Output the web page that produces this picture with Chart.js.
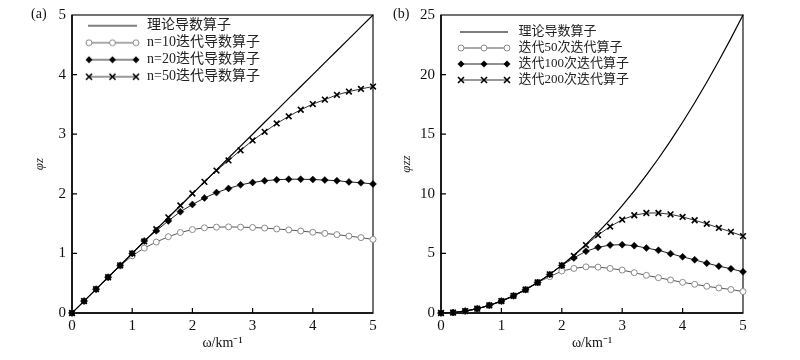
<!DOCTYPE html>
<html><head><meta charset="utf-8">
<script src="https://cdn.jsdelivr.net/npm/chart.js@4/dist/chart.umd.min.js"></script>
<style>
body{margin:0;background:#fff;width:800px;height:360px;position:relative;overflow:hidden}
#ca{position:absolute;left:0;top:0}
#cb{position:absolute;left:390px;top:0}
.pl{position:absolute;font:14px "Liberation Serif",serif;color:#111;top:6px}
</style></head><body>
<canvas id="ca" width="390" height="360"></canvas>
<canvas id="cb" width="410" height="360"></canvas>
<div class="pl" style="left:31px">(a)</div>
<div class="pl" style="left:393px">(b)</div>
<script>
// ---- data ----
const omega = [0,0.2,0.4,0.6,0.8,1.0,1.2,1.4,1.6,1.8,2.0,2.2,2.4,2.6,2.8,3.0,3.2,3.4,3.6,3.8,4.0,4.2,4.4,4.6,4.8,5.0];
const xTicks = [0,1,2,3,4,5];
const yTicksA = [0,1,2,3,4,5];
const yTicksB = [0,5,10,15,20,25];

const labelsA = ['理论导数算子','n=10迭代导数算子','n=20迭代导数算子','n=50迭代导数算子'];
const theoryA = [0,0.2,0.4,0.6,0.8,1.0,1.2,1.4,1.6,1.8,2.0,2.2,2.4,2.6,2.8,3.0,3.2,3.4,3.6,3.8,4.0,4.2,4.4,4.6,4.8,5.0];
const n10 = [0,0.2,0.4,0.6,0.79,0.96,1.09,1.19,1.28,1.35,1.40,1.43,1.44,1.445,1.44,1.435,1.425,1.41,1.395,1.375,1.355,1.335,1.315,1.29,1.265,1.235];
const n20 = [0,0.2,0.4,0.6,0.8,1.0,1.21,1.38,1.545,1.70,1.82,1.93,2.02,2.09,2.15,2.19,2.22,2.235,2.245,2.245,2.24,2.23,2.22,2.20,2.185,2.165];
const n50 = [0,0.2,0.4,0.6,0.8,1.0,1.2,1.405,1.605,1.805,2.005,2.2,2.39,2.56,2.73,2.895,3.04,3.18,3.30,3.41,3.505,3.58,3.66,3.715,3.76,3.80];

const labelsB = ['理论导数算子','迭代50次迭代算子','迭代100次迭代算子','迭代200次迭代算子'];
const theoryB = [0,0.04,0.16,0.36,0.64,1,1.44,1.96,2.56,3.24,4,4.84,5.76,6.76,7.84,9,10.24,11.56,12.96,14.44,16,17.64,19.36,21.16,23.04,25];
const it50 = [0,0.04,0.16,0.36,0.64,1,1.44,1.96,2.56,3.05,3.52,3.74,3.87,3.85,3.74,3.60,3.38,3.16,2.96,2.77,2.57,2.41,2.24,2.10,1.97,1.80];
const it100 = [0,0.04,0.16,0.36,0.64,1,1.44,1.96,2.56,3.24,3.99,4.62,5.18,5.51,5.70,5.73,5.65,5.45,5.26,4.98,4.71,4.46,4.18,3.93,3.71,3.46];
const it200 = [0,0.04,0.16,0.36,0.64,1,1.44,1.96,2.56,3.24,4.0,4.79,5.70,6.54,7.25,7.83,8.20,8.39,8.39,8.28,8.06,7.78,7.48,7.14,6.81,6.45];

// ---- styles ----
const SERIF = '"Liberation Serif","Times New Roman",serif';
const LEG = '"Liberation Serif","Noto Sans CJK SC",serif';
const styles = [
  {kind:'none', line:'#000', lw:1.2},
  {kind:'circle', line:'#555', lw:1, mk:'#8a8a8a'},
  {kind:'diamond', line:'#222', lw:1, mk:'#000'},
  {kind:'cross', line:'#333', lw:1, mk:'#000'}
];

function drawMarker(g, kind, x, y, col){
  g.save();
  if(kind==='circle'){g.fillStyle='#fff';g.strokeStyle=col;g.lineWidth=1;g.beginPath();g.arc(x,y,3,0,Math.PI*2);g.fill();g.stroke();}
  else if(kind==='diamond'){g.fillStyle=col;g.beginPath();g.moveTo(x,y-3.5);g.lineTo(x+3.5,y);g.lineTo(x,y+3.5);g.lineTo(x-3.5,y);g.closePath();g.fill();}
  else if(kind==='cross'){g.strokeStyle=col;g.lineWidth=1.6;g.beginPath();g.moveTo(x-3,y-3);g.lineTo(x+3,y+3);g.moveTo(x+3,y-3);g.lineTo(x-3,y+3);g.stroke();}
  g.restore();
}
function sampleImg(w, x0, x1, st){
  const c=document.createElement('canvas'); c.width=w; c.height=10;
  const g=c.getContext('2d');
  g.strokeStyle=st.line; g.lineWidth=st.lw; g.beginPath(); g.moveTo(x0,5); g.lineTo(x1,5); g.stroke();
  if(st.kind!=='none'){[x0+1,(x0+x1)/2,x1-1].forEach(x=>drawMarker(g,st.kind,x,5,st.mk));}
  return c;
}

function mkDatasets(labels, series){
  return series.map((vals,i)=>{
    const st=styles[i];
    const ds={label:labels[i], data:omega.map((w,k)=>({x:w,y:vals[k]})),
      borderColor:st.line, borderWidth:st.lw, tension:0, fill:false, clip:false};
    if(st.kind==='none'){ds.pointRadius=0;ds.order=0;}
    else if(st.kind==='circle'){ds.pointStyle='circle';ds.pointRadius=3;ds.pointBorderColor=st.mk;ds.pointBackgroundColor='#fff';ds.pointBorderWidth=1;ds.order=3;}
    else if(st.kind==='diamond'){ds.pointStyle='rectRot';ds.pointRadius=3.5;ds.pointBorderColor=st.mk;ds.pointBackgroundColor=st.mk;ds.pointBorderWidth=0.5;ds.order=2;}
    else {ds.pointStyle='crossRot';ds.pointRadius=4;ds.pointBorderColor=st.mk;ds.pointBorderWidth=1.6;ds.order=1;}
    ds.pointHoverRadius=ds.pointRadius;
    return ds;
  });
}

const frame = {
  id:'frame',
  beforeDatasetsDraw(chart){
    const {ctx, chartArea:a, scales} = chart;
    ctx.save();
    ctx.strokeStyle='#444'; ctx.lineWidth=1.5;
    ctx.strokeRect(a.left, a.top, a.right-a.left, a.bottom-a.top);
    ctx.strokeStyle='#000'; ctx.lineWidth=1.5;
    ctx.beginPath(); ctx.moveTo(a.left,a.top); ctx.lineTo(a.left,a.bottom); ctx.lineTo(a.right,a.bottom); ctx.stroke();
    ctx.lineWidth=1.2; ctx.beginPath();
    scales.x.ticks.forEach(t=>{ if(t.value>scales.x.min && t.value<scales.x.max){const px=scales.x.getPixelForValue(t.value); ctx.moveTo(px,a.bottom); ctx.lineTo(px,a.bottom-5);} });
    scales.y.ticks.forEach(t=>{ if(t.value>scales.y.min && t.value<scales.y.max){const py=scales.y.getPixelForValue(t.value); ctx.moveTo(a.left,py); ctx.lineTo(a.left+5,py);} });
    ctx.stroke();
    ctx.restore();
  }
};

function makeChart(id, labels, series, yTicks, yTitle, opt){
  const ds = mkDatasets(labels, series);
  const imgs = styles.map(st=>sampleImg(opt.bw, opt.s0, opt.s1, st));
  return new Chart(document.getElementById(id), {
    type:'line',
    data:{datasets:ds},
    plugins:[frame],
    options:{
      responsive:false, animation:false, devicePixelRatio:1,
      layout:{padding:{left:0, right:opt.padR, top:12, bottom:0}},
      plugins:{
        tooltip:{enabled:false},
        legend:{
          position:'chartArea', align:'start',
          title:{display:true, text:' ', font:{size:1}, padding:{top:0,bottom:opt.titlePad}},
          labels:{
            usePointStyle:true, pointStyleWidth:opt.bw, boxHeight:opt.fs, padding:opt.lp,
            font:{size:opt.fs, family:LEG}, color:'#222',
            generateLabels(chart){
              return chart.data.datasets.map((d,i)=>({text:d.label, pointStyle:imgs[i], datasetIndex:i, hidden:false, fontColor:'#222', lineWidth:0, strokeStyle:'rgba(0,0,0,0)', fillStyle:'rgba(0,0,0,0)'}));
            }
          }
        }
      },
      scales:{
        x:{type:'linear', min:0, max:5,
          afterBuildTicks(s){s.ticks=xTicks.map(v=>({value:v}));},
          ticks:{padding:4, color:'#111', font:{size:15, family:SERIF}, maxRotation:0},
          grid:{display:false, drawTicks:false}, border:{display:false},
          title:{display:true, text:'ω/km⁻¹', color:'#111', font:{size:14, family:SERIF}, padding:{top:0,bottom:8}},
          afterFit(s){s.height=47;}
        },
        y:{type:'linear', min:yTicks[0], max:yTicks[yTicks.length-1],
          afterBuildTicks(s){s.ticks=yTicks.map(v=>({value:v}));},
          ticks:{padding:6, color:'#111', font:{size:15, family:SERIF}},
          grid:{display:false, drawTicks:false}, border:{display:false},
          title:{display:true, text:yTitle, color:'#222', font:{size:13, family:SERIF, style:'italic'}, padding:{top:opt.yTitlePad, bottom:0}},
          afterFit(s){s.width=opt.yW;}
        }
      }
    }
  });
}

makeChart('ca', labelsA, [theoryA,n10,n20,n50], yTicksA, 'φz',
  {padR:17, yW:72, yTitlePad:32, bw:65, s0:13, s1:62, fs:14, lp:3, titlePad:14.5});
makeChart('cb', labelsB, [theoryB,it50,it100,it200], yTicksB, 'φzz',
  {padR:57, yW:51, yTitlePad:9, bw:68, s0:16, s1:64, fs:13, lp:3, titlePad:21.3});
</script>
</body></html>
